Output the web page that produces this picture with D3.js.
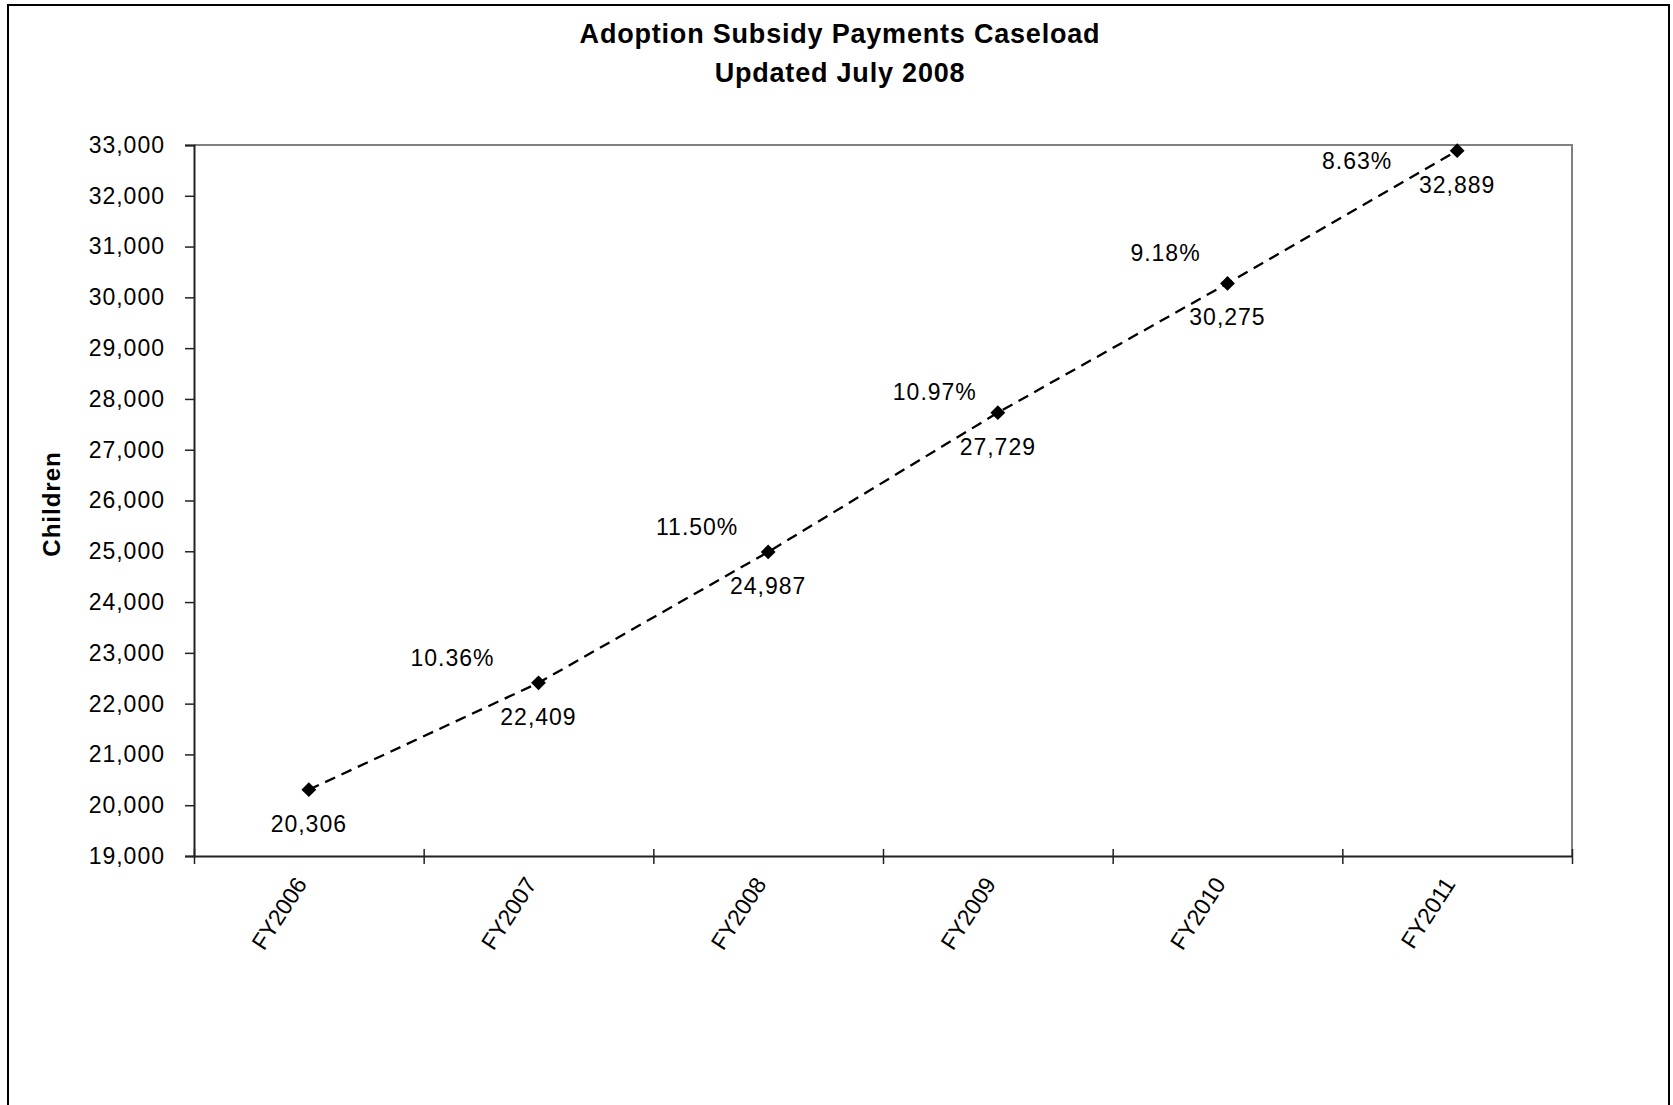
<!DOCTYPE html>
<html>
<head>
<meta charset="utf-8">
<title>Adoption Subsidy Payments Caseload</title>
<script src="https://cdn.jsdelivr.net/npm/d3@7"></script>
<style>
  body { margin: 0; background: #fff; }
  svg { display: block; font-family: Arial, "Liberation Sans", sans-serif; }
  .data-line { fill: none; stroke: #000; stroke-width: 2.3; stroke-dasharray: 11, 7; }
  .tick-text { font-size: 23px; letter-spacing: 1px; fill: #000; }
</style>
</head>
<body>
<svg id="chart" width="1673" height="1105"></svg>
<script>
"use strict";

/******************************************************* Data *******************************************************/

const YEARS = ["FY2006", "FY2007", "FY2008", "FY2009", "FY2010", "FY2011"];
const CASELOAD = [20306, 22409, 24987, 27729, 30275, 32889];
const GROWTH_LABELS = [null, "10.36%", "11.50%", "10.97%", "9.18%", "8.63%"];
const Y_TICKS = [19000, 20000, 21000, 22000, 23000, 24000, 25000, 26000,
  27000, 28000, 29000, 30000, 31000, 32000, 33000];
const TITLE_LINES = ["Adoption Subsidy Payments Caseload", "Updated July 2008"];
const Y_TITLE = "Children";

/******************************************************* Layout *******************************************************/

const SVG_ID = "#chart";
const PLOT_LEFT = 194;
const PLOT_RIGHT = 1572;
const PLOT_TOP = 145;
const PLOT_BOTTOM = 856;
// growth labels were dragged around by hand in the original, keep their nudges here
const GROWTH_OFFSETS = [null, [-86, -17], [-71, -17], [-63, -13], [-62, -22], [-100, 18]];
const FMT = d3.format(",");

function draw() {
  const svg = d3.select(SVG_ID);

  // Outer chart frame (bottom edge falls off the page)
  svg.append("rect")
    .attr("x", 8).attr("y", 5)
    .attr("width", 1661).attr("height", 1120)
    .attr("fill", "#fff")
    .attr("stroke", "#000")
    .attr("stroke-width", 2);

  // Title
  svg.append("g").selectAll("text")
    .data(TITLE_LINES)
    .join("text")
    .attr("x", 840)
    .attr("y", (d, i) => 43 + i * 39)
    .attr("text-anchor", "middle")
    .style("font-size", "27px")
    .style("font-weight", "bold")
    .style("letter-spacing", "0.8px")
    .text(d => d);

  // Scales
  const X_SCALE = d3.scaleBand().domain(YEARS).range([PLOT_LEFT, PLOT_RIGHT]);
  const X_EDGES = d3.scaleLinear().domain([0, YEARS.length]).range([PLOT_LEFT, PLOT_RIGHT]);
  const Y_SCALE = d3.scaleLinear().domain([19000, 33000]).range([PLOT_BOTTOM, PLOT_TOP]);
  const cx = d => X_SCALE(d) + X_SCALE.bandwidth() / 2;

  // Plot area border, gray on top and right
  svg.append("path")
    .attr("d", "M" + PLOT_LEFT + "," + PLOT_TOP + "H" + PLOT_RIGHT + "V" + PLOT_BOTTOM)
    .attr("fill", "none")
    .attr("stroke", "#808080")
    .attr("stroke-width", 2);

  // Y axis
  const gY = svg.append("g")
    .attr("transform", "translate(" + PLOT_LEFT + ",0)")
    .call(d3.axisLeft(Y_SCALE).tickValues(Y_TICKS).tickSize(9).tickPadding(20).tickFormat(FMT));
  gY.select(".domain").attr("stroke", "#222").attr("stroke-width", 2);
  gY.selectAll(".tick line").attr("stroke", "#222").attr("stroke-width", 1.5);
  gY.selectAll(".tick text")
    .attr("class", "tick-text")
    .attr("font-family", null).attr("font-size", null);

  // X axis, ticks on the category edges crossing the line
  const gX = svg.append("g")
    .attr("transform", "translate(0," + PLOT_BOTTOM + ")")
    .call(d3.axisBottom(X_EDGES).ticks(YEARS.length).tickSizeOuter(0).tickFormat(""));
  gX.select(".domain").attr("stroke", "#222").attr("stroke-width", 2);
  gX.selectAll(".tick line").attr("y1", -7).attr("y2", 8).attr("stroke", "#222").attr("stroke-width", 1.5);

  // Category labels, slanted
  svg.append("g").selectAll("text")
    .data(YEARS)
    .join("text")
    .attr("class", "tick-text")
    .attr("transform", d => "translate(" + (cx(d) - 1) + "," + 884 + ") rotate(-57)")
    .attr("text-anchor", "end")
    .style("letter-spacing", "0px")
    .text(d => d);

  // Y axis title
  svg.append("text")
    .attr("transform", "translate(60,504) rotate(-90)")
    .attr("text-anchor", "middle")
    .style("font-size", "24px")
    .style("font-weight", "bold")
    .style("letter-spacing", "1px")
    .text(Y_TITLE);

  // Caseload line
  const LINE = d3.line()
    .x((d, i) => cx(YEARS[i]))
    .y(d => Y_SCALE(d));

  svg.append("path")
    .datum(CASELOAD)
    .attr("class", "data-line")
    .attr("d", LINE);

  // Diamond markers
  svg.append("g").selectAll("path")
    .data(CASELOAD)
    .join("path")
    .attr("d", d3.symbol(d3.symbolSquare, 110))
    .attr("transform", (d, i) => "translate(" + cx(YEARS[i]) + "," + Y_SCALE(d) + ") rotate(45)")
    .attr("fill", "#000");

  // Value labels under each point
  svg.append("g").selectAll("text")
    .data(CASELOAD)
    .join("text")
    .attr("class", "tick-text")
    .attr("x", (d, i) => cx(YEARS[i]))
    .attr("y", d => Y_SCALE(d) + 42)
    .attr("text-anchor", "middle")
    .text(d => FMT(d));

  // Year over year growth labels
  svg.append("g").selectAll("text")
    .data(GROWTH_LABELS.map((d, i) => ({ label: d, i: i })).filter(d => d.label))
    .join("text")
    .attr("class", "tick-text")
    .attr("x", d => cx(YEARS[d.i]) + GROWTH_OFFSETS[d.i][0])
    .attr("y", d => Y_SCALE(CASELOAD[d.i]) + GROWTH_OFFSETS[d.i][1])
    .attr("text-anchor", "middle")
    .text(d => d.label);
}

draw();
</script>
</body>
</html>
